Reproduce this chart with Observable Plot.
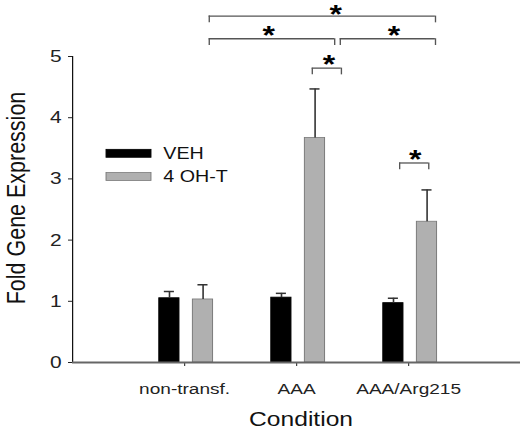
<!DOCTYPE html>
<html><head><meta charset="utf-8">
<script src="https://cdn.jsdelivr.net/npm/d3@7"></script>
<script src="https://cdn.jsdelivr.net/npm/@observablehq/plot@0.6"></script>
<style>body{margin:0;background:#fff}</style>
</head><body><div id="chart"></div>
<script>
// ---- data ----
const categories = ["non-transf.", "AAA", "AAA/Arg215"];
const seriesNames = ["VEH", "4 OH-T"];
const vehMean = [1.05, 1.06, 0.97];
const vehErr  = [0.11, 0.07, 0.08];
const ohtMean = [1.03, 3.67, 2.30];
const ohtErr  = [0.24, 0.80, 0.52];
const yTicks = [0, 1, 2, 3, 4, 5];
const xTicks = [1, 2, 3];
// significance brackets (x in category-index units, y in fold units)
const bracketX1 = [1.22, 1.22, 2.39, 2.14, 2.92];
const bracketX2 = [3.24, 2.34, 3.24, 2.40, 3.18];
const bracketY  = [5.66, 5.29, 5.29, 4.81, 3.26];
const starX     = [2.35, 1.75, 2.87, 2.29, 3.06];
const starY     = [5.79, 5.44, 5.44, 4.97, 3.42];

// ---- layout ----
const OUT_W = 525, H = 430;
const S = 1.23;               // horizontal stretch of the original figure
const W = OUT_W / S;
const font = "'Liberation Sans', Arial, sans-serif";
const barOff = {"VEH": [-0.225, -0.045], "4 OH-T": [0.075, 0.255]};
const capHalf = 0.045, drop = 0.11;

const rows = [];
categories.forEach((c, i) => {
  rows.push({cat: c, i: i + 1, series: "VEH", mean: vehMean[i], err: vehErr[i]});
  rows.push({cat: c, i: i + 1, series: "4 OH-T", mean: ohtMean[i], err: ohtErr[i]});
});
const veh = rows.filter(d => d.series === "VEH");
const oht = rows.filter(d => d.series === "4 OH-T");
const cx = d => d.i + (barOff[d.series][0] + barOff[d.series][1]) / 2;

const brackets = bracketX1.map((x1, k) => ({x1, x2: bracketX2[k], y: bracketY[k], sx: starX[k], sy: starY[k]}));
const legendY = [3.41, 3.03];

const svg = Plot.plot({
  width: W, height: H,
  marginLeft: 72 / S, marginRight: 5 / S, marginTop: 56, marginBottom: 68,
  style: {fontFamily: font, background: "#fff", color: "#222"},
  x: {domain: [0, 4]},
  y: {domain: [0, 5]},
  marks: [
    Plot.axisY({ticks: yTicks, tickFormat: d => String(d), tickSize: 4 / S, tickPadding: 7 / S, fontSize: 17, label: null, stroke: "#222", color: "#222"}),
    Plot.axisX({ticks: xTicks, tickFormat: t => categories[t - 1], tickSize: 4, tickPadding: 16, fontSize: 15.5, label: null, stroke: "#444", color: "#222"}),
    // bars
    Plot.rectY(veh, {x1: d => d.i + barOff.VEH[0], x2: d => d.i + barOff.VEH[1], y1: 0, y2: "mean", fill: "#000", stroke: "#000", strokeWidth: 0.8}),
    Plot.rectY(oht, {x1: d => d.i + barOff["4 OH-T"][0], x2: d => d.i + barOff["4 OH-T"][1], y1: 0, y2: "mean", fill: "#b0b0b0", stroke: "#7a7a7a", strokeWidth: 0.8}),
    // error bars
    Plot.ruleX(rows, {x: cx, y1: "mean", y2: d => d.mean + d.err, stroke: "#333", strokeWidth: 1.3}),
    Plot.ruleY(rows, {x1: d => cx(d) - capHalf, x2: d => cx(d) + capHalf, y: d => d.mean + d.err, stroke: "#333", strokeWidth: 1.5}),
    // axes lines
    Plot.ruleX([0], {y1: 0, y2: 5, stroke: "#111", strokeWidth: 1}),
    Plot.ruleY([0], {stroke: "#666", strokeWidth: 1.8}),
    // brackets
    Plot.ruleY(brackets, {x1: "x1", x2: "x2", y: "y", stroke: "#555", strokeWidth: 1.3}),
    Plot.ruleX(brackets, {x: "x1", y1: "y", y2: d => d.y - drop, stroke: "#555", strokeWidth: 1.1}),
    Plot.ruleX(brackets, {x: "x2", y1: "y", y2: d => d.y - drop, stroke: "#555", strokeWidth: 1.1}),
    Plot.text(brackets, {x: "sx", y: "sy", text: () => "*", fontSize: 26, fontWeight: "bold", fill: "#000", lineAnchor: "middle", dy: 6.5}),
    // legend
    Plot.rect(seriesNames, {x1: 0.304, x2: 0.705, y1: (d, i) => legendY[i] - 0.065, y2: (d, i) => legendY[i] + 0.065,
      fill: (d, i) => i === 0 ? "#000" : "#b0b0b0", stroke: (d, i) => i === 0 ? "#000" : "#7a7a7a", strokeWidth: 0.8}),
    Plot.text(seriesNames, {x: 0.81, y: (d, i) => legendY[i], text: d => d, textAnchor: "start", fontSize: 16, fill: "#111", lineAnchor: "middle"}),
    // axis titles
    Plot.text(["Fold Gene Expression"], {frameAnchor: "left", rotate: -90, textAnchor: "middle", dx: 19.6 - 72 / S, dy: -11.5, fontSize: 21.5, lineAnchor: "bottom", fill: "#111"}),
    Plot.text(["Condition"], {frameAnchor: "bottom", textAnchor: "middle", dx: 3.6, dy: 63.5, fontSize: 20, lineAnchor: "bottom", fill: "#111"})
  ]
});
svg.setAttribute("width", OUT_W);
svg.setAttribute("height", H);
svg.setAttribute("viewBox", `0 0 ${W} ${H}`);
svg.setAttribute("preserveAspectRatio", "none");
svg.style.width = OUT_W + "px";
svg.style.height = H + "px";
svg.style.maxWidth = "none";
document.getElementById("chart").appendChild(svg);
</script>
</body></html>
